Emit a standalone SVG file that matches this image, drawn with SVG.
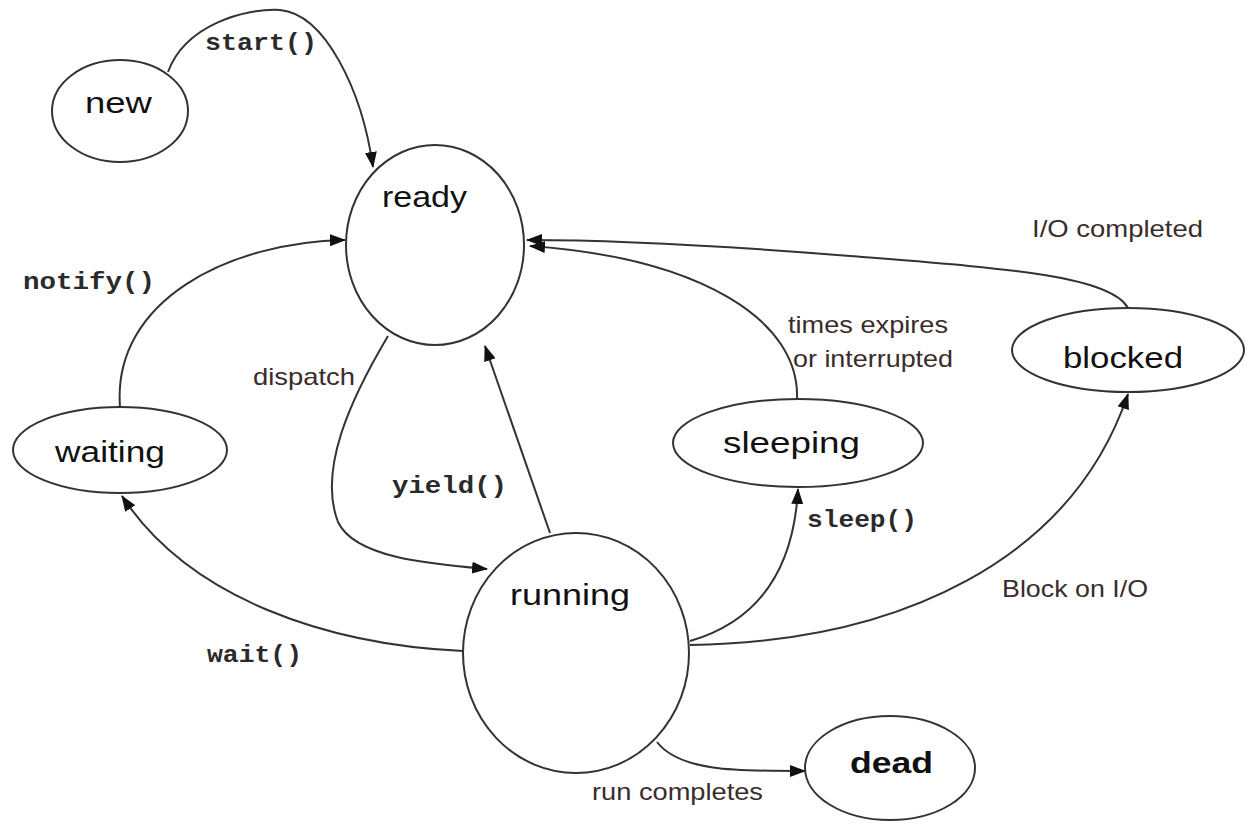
<svg xmlns="http://www.w3.org/2000/svg" width="1248" height="827" viewBox="0 0 1248 827">
<style>
.node{fill:#fff;stroke:#333;stroke-width:2}
.nl{font-family:"Liberation Sans",Arial,sans-serif;font-size:30px;fill:#111}
.edge{fill:none;stroke:#333;stroke-width:2}
.code{font-family:"Liberation Mono","Courier New",monospace;font-weight:bold;font-size:24px;fill:#2a2a2a}
.lab{font-family:"Liberation Sans",Arial,sans-serif;font-size:24px;fill:#3a2c2c}
</style>
<defs>
<marker id="arr" markerUnits="userSpaceOnUse" markerWidth="16" markerHeight="12" refX="15" refY="6" orient="auto">
<path d="M0,0 L16,6 L0,12 Z" fill="#111"/>
</marker>
</defs>
<rect width="1248" height="827" fill="#fff"/>
<g id="connectors">
<path class="edge" d="M168,72 C185,25 245,8 280,10 C325,14 362,90 373,167" marker-end="url(#arr)"/>
<path class="edge" d="M120,407 C112,300 230,242 345,240" marker-end="url(#arr)"/>
<path class="edge" d="M388,336 C350,400 318,470 338,522 C355,558 430,564 487,569" marker-end="url(#arr)"/>
<path class="edge" d="M550,533 L485,346" marker-end="url(#arr)"/>
<path class="edge" d="M463,651 C330,645 190,600 122,496" marker-end="url(#arr)"/>
<path class="edge" d="M797,399 C800,320 700,258 530,246" marker-end="url(#arr)"/>
<path class="edge" d="M1128,308 C1110,275 1000,268 850,256 C700,244 600,240 527,240" marker-end="url(#arr)"/>
<path class="edge" d="M690,641 C745,625 793,585 798,489" marker-end="url(#arr)"/>
<path class="edge" d="M690,645 C900,642 1072,560 1128,394" marker-end="url(#arr)"/>
<path class="edge" d="M657,742 C680,772 740,771 805,771" marker-end="url(#arr)"/>
</g>
<g id="labels">
<text class="code" x="205" y="50" textLength="112" lengthAdjust="spacingAndGlyphs">start()</text>
<text class="code" x="23" y="289" textLength="132" lengthAdjust="spacingAndGlyphs">notify()</text>
<text class="lab" x="253" y="385" textLength="102" lengthAdjust="spacingAndGlyphs">dispatch</text>
<text class="code" x="392" y="493" textLength="115" lengthAdjust="spacingAndGlyphs">yield()</text>
<text class="code" x="207" y="662" textLength="95" lengthAdjust="spacingAndGlyphs">wait()</text>
<text class="code" x="807" y="527" textLength="110" lengthAdjust="spacingAndGlyphs">sleep()</text>
<text class="lab" x="788" y="333" textLength="160" lengthAdjust="spacingAndGlyphs">times expires</text>
<text class="lab" x="793" y="367" textLength="160" lengthAdjust="spacingAndGlyphs">or interrupted</text>
<text class="lab" x="1032" y="237" textLength="171" lengthAdjust="spacingAndGlyphs">I/O completed</text>
<text class="lab" x="1002" y="597" textLength="146" lengthAdjust="spacingAndGlyphs">Block on I/O</text>
<text class="lab" x="592" y="800" textLength="171" lengthAdjust="spacingAndGlyphs">run completes</text>
</g>
<g id="new"><ellipse class="node" cx="120" cy="111" rx="68" ry="51"/><text class="nl" x="85" y="113" textLength="67" lengthAdjust="spacingAndGlyphs">new</text></g>
<g id="ready"><ellipse class="node" cx="435" cy="245" rx="89" ry="100"/><text class="nl" x="382" y="207" textLength="85" lengthAdjust="spacingAndGlyphs">ready</text></g>
<g id="waiting"><ellipse class="node" cx="120" cy="450" rx="107" ry="43"/><text class="nl" x="55" y="462" textLength="110" lengthAdjust="spacingAndGlyphs">waiting</text></g>
<g id="running"><ellipse class="node" cx="576" cy="653" rx="113" ry="120"/><text class="nl" x="510" y="605" textLength="120" lengthAdjust="spacingAndGlyphs">running</text></g>
<g id="sleeping"><ellipse class="node" cx="798" cy="443" rx="125" ry="44"/><text class="nl" x="723" y="453" textLength="137" lengthAdjust="spacingAndGlyphs">sleeping</text></g>
<g id="blocked"><ellipse class="node" cx="1128" cy="350" rx="116" ry="42"/><text class="nl" x="1063" y="368" textLength="120" lengthAdjust="spacingAndGlyphs">blocked</text></g>
<g id="dead"><ellipse class="node" cx="890" cy="768" rx="85" ry="52"/><text class="nl" x="850" y="773" font-weight="bold" textLength="83" lengthAdjust="spacingAndGlyphs">dead</text></g>
</svg>
